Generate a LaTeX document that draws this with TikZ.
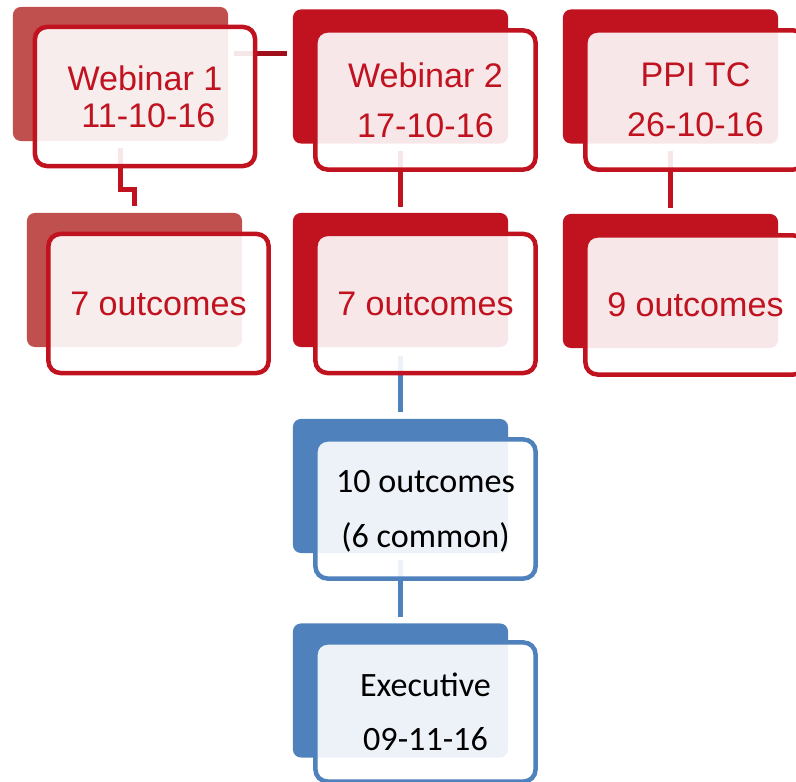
\documentclass[tikz,border=0pt]{standalone}
\usepackage{fontspec}
\newfontfamily\arialfont{Liberation Sans}
\newfontfamily\calibrifont{Carlito}
\usetikzlibrary{calc}

\definecolor{stagered}{HTML}{C0131F}
\definecolor{stagepale}{HTML}{C0504D}
\definecolor{stageblue}{HTML}{4F81BD}
\definecolor{linkred}{HTML}{A10E1C}

\tikzset{
  back/.style={rectangle, rounded corners=0.08cm, minimum width=2.15cm,
    minimum height=1.34cm, inner sep=0pt},
  front/.style={rectangle, rounded corners=0.12cm, draw, line width=0.045cm,
    fill=white, fill opacity=0.9, text opacity=1, minimum width=2.20cm,
    minimum height=1.39cm, inner sep=0pt, align=center},
  redfront/.style={front, draw=stagered, text=stagered,
    font=\arialfont\fontsize{9.7}{14.2}\selectfont},
  bluefront/.style={front, draw=stageblue, text=black,
    font=\calibrifont\fontsize{9.7}{15.4}\selectfont},
  redlink/.style={stagered, line width=0.05cm},
  bluelink/.style={stageblue, line width=0.05cm}
}

\begin{document}
\begin{tikzpicture}[x=0.01cm, y=-0.01cm]
  \useasboundingbox (0,0) rectangle (796,782);
  \clip (0,0) rectangle (796,782);
  % back cards
  \node[back, fill=stagepale] (w1) at (120.5,74) {};
  \node[back, fill=stagered] (w2) at (400.5,76.5) {};
  \node[back, fill=stagered] (tc) at (670.5,76.5) {};
  \node[back, fill=stagepale] (o1) at (134.5,280) {};
  \node[back, fill=stagered] (o2) at (400.5,280) {};
  \node[back, fill=stagered] (o3) at (670.5,281) {};
  \node[back, fill=stageblue] (all) at (400.5,486) {};
  \node[back, fill=stageblue] (ex) at (400.5,690.5) {};
  % links between the cards
  \draw[redlink, linkred] ($(w1.east)+(5,-20)$) -- ($(w2.west)+(-5,-22.5)$);
  \draw[redlink] ($(w1.south)+(0,6)$) |- ($(o1.north)+(0,-23)$)
    -- ($(o1.north)+(0,-6)$);
  \draw[redlink] ($(w2.south)+(0,7)$) -- ($(o2.north)+(0,-5)$);
  \draw[redlink] ($(tc.south)+(0,7)$) -- ($(o3.north)+(0,-5)$);
  \draw[bluelink] ($(o2.south)+(0,8)$) -- ($(all.north)+(0,-6)$);
  \draw[bluelink] ($(all.south)+(0,6)$) -- ($(ex.north)+(0,-6)$);
  % front cards
  \node[redfront, font=\arialfont\fontsize{9.7}{10.5}\selectfont]
    (w1f) at (145,96.5) {Webinar 1\\ \hspace{0.2em}11-10-16};
  \node[redfront] (w2f) at (425.5,100) {Webinar 2\\17-10-16};
  \node[redfront] (tcf) at (695.5,100) {PPI TC\\26-10-16};
  \node[redfront] (o1f) at (158.5,303.5) {7 outcomes};
  \node[redfront] (o2f) at (425.5,303.5) {7 outcomes};
  \node[redfront] (o3f) at (695.5,305) {9 outcomes};
  \node[bluefront] (allf) at (425.5,509) {10 outcomes\\\smash{(6 common)}};
  \node[bluefront] (exf) at (425.5,712) {Executive\\09-11-16};
\end{tikzpicture}
\end{document}
